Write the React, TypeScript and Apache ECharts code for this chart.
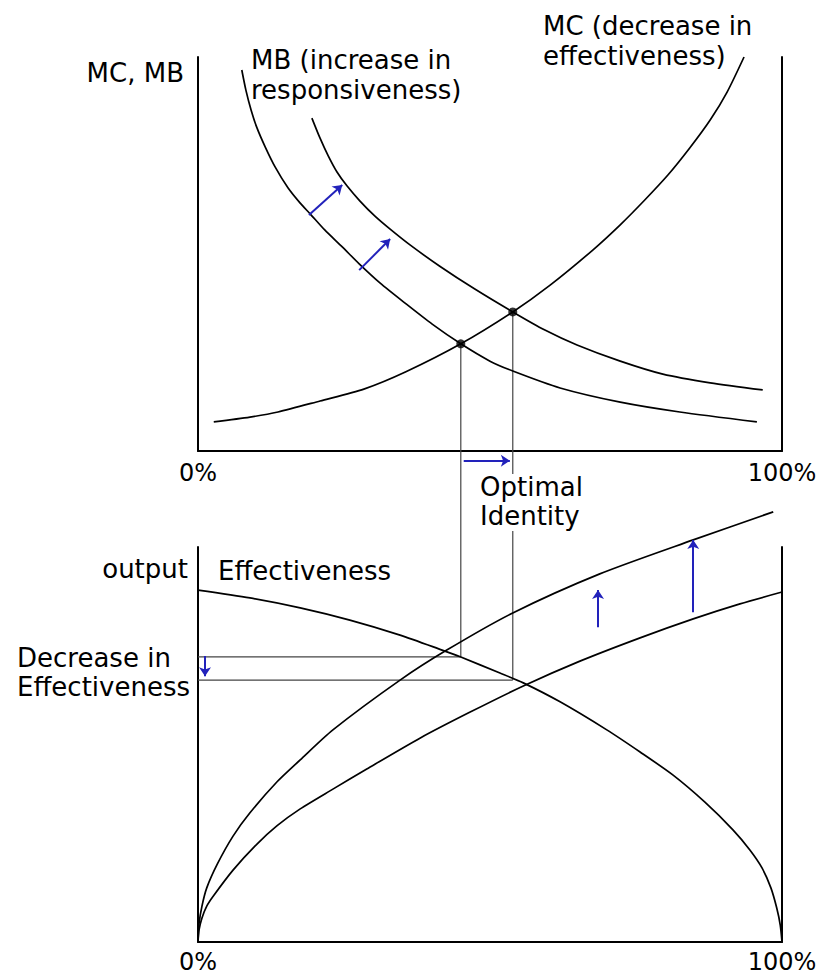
import React, { useEffect, useRef } from "react";
import * as echarts from "echarts";

// ---------- data (x = % of identity, y = value) ----------
const xTickLabels = ["0%", "100%"];

// top panel: marginal benefit (old, lower), marginal benefit (new, higher), marginal cost
const mbOld: [number, number][] = [
  [7.5, 96.7], [8.2, 91.6], [9.1, 86.5], [10.1, 82.0], [11.5, 77.2], [13.2, 72.1],
  [15.4, 66.8], [17.5, 62.9], [19.2, 60.2], [21.7, 56.1], [24.7, 51.8], [27.6, 47.5],
  [31.2, 42.6], [35.4, 37.6], [40.1, 32.2], [45.0, 27.2], [50.0, 22.8], [53.9, 20.3],
  [62.0, 16.0], [72.3, 12.4], [82.5, 9.9], [95.7, 7.4],
];
const mbNew: [number, number][] = [
  [19.5, 84.5], [20.9, 79.4], [22.3, 74.9], [23.8, 70.8], [25.5, 67.3], [27.7, 63.5],
  [30.3, 59.6], [32.9, 56.3], [36.3, 52.3], [41.4, 46.9], [47.4, 41.1], [53.9, 35.3],
  [59.4, 30.7], [64.9, 26.9], [72.3, 22.8], [79.6, 19.5], [87.7, 17.3], [96.7, 15.5],
];
const mc: [number, number][] = [
  [2.7, 7.4], [8.9, 8.6], [13.7, 9.9], [20.9, 12.7], [28.4, 15.7], [35.6, 20.1],
  [45.0, 27.2], [53.9, 35.3], [60.3, 42.1], [67.6, 51.0], [72.3, 57.4], [76.5, 63.7],
  [80.5, 70.1], [84.2, 76.9], [87.7, 84.0], [90.6, 91.1], [93.5, 100.0],
];
const eqX = [45.0, 53.9];
const eqY = [27.2, 35.3];

// bottom panel: effectiveness, responsiveness (old, lower) and (new, higher)
const effectiveness: [number, number][] = [
  [0, 89.1], [8.9, 87.1], [17.5, 84.6], [26.0, 81.5], [34.6, 77.7], [41.8, 73.9],
  [44.9, 72.2], [51.7, 68.1], [55.7, 65.6], [62.0, 60.8], [70.0, 53.7], [75.7, 48.1],
  [81.3, 42.3], [86.8, 35.4], [91.6, 28.4], [94.5, 23.3], [96.6, 18.7], [98.1, 13.7],
  [99.1, 8.6], [99.7, 4.3], [100, 0],
];
const respOld: [number, number][] = [
  [0, 0], [0.17, 3.0], [0.68, 6.1], [1.5, 9.1], [2.6, 11.6], [6.0, 18.2], [10.1, 24.8],
  [13.5, 29.4], [17.5, 33.7], [23.1, 38.7], [28.9, 43.8], [38.0, 51.6], [46.6, 58.2],
  [55.7, 64.8], [65.4, 71.1], [75.7, 77.0], [84.8, 81.8], [92.8, 85.6], [100, 88.6],
];
const respNew: [number, number][] = [
  [0, 0], [0.17, 4.6], [0.68, 9.1], [1.5, 13.7], [3.3, 19.7], [6.0, 26.8], [8.9, 32.7],
  [13.5, 40.5], [17.5, 46.1], [23.1, 53.7], [34.6, 66.3], [42.6, 73.9], [53.9, 83.3],
  [68.8, 93.2], [84.8, 101.8], [98.5, 108.9],
];
const effLevels = [72.2, 66.3];

// shift arrows
const topArrows: [number, number][][] = [
  [[19.0, 59.9], [24.7, 67.5]],
  [[27.6, 45.9], [32.9, 53.8]],
];
const shiftArrow: [number, number][] = [[45.5, -2.5], [53.4, -2.5]];
const bottomArrows: [number, number][][] = [
  [[1.2, 72.4], [1.2, 67.3]],
  [[68.5, 79.7], [68.5, 89.1]],
  [[84.8, 83.5], [84.8, 101.8]],
];

const FONT = '"DejaVu Sans", sans-serif';
const BLUE = "#2222bb";

export default function App() {
  const ref = useRef<HTMLDivElement>(null);

  useEffect(() => {
    if (!ref.current) return;
    const chart = echarts.init(ref.current, null, { renderer: "svg" });

    const xAxis = (gridIndex: number, margin: number) => ({
      type: "value",
      gridIndex,
      min: 0,
      max: 100,
      interval: 100,
      axisLine: { show: true, onZero: false, lineStyle: { color: "#000", width: 2 } },
      axisTick: { show: false },
      splitLine: { show: false },
      axisLabel: {
        show: true,
        margin,
        color: "#000",
        fontSize: 24,
        fontFamily: FONT,
        formatter: (v: number) => (v === 0 ? xTickLabels[0] : xTickLabels[1]),
      },
    });
    const yAxis = (gridIndex: number, position: string) => ({
      type: "value",
      gridIndex,
      position,
      min: 0,
      max: 100,
      axisLine: { show: true, onZero: false, lineStyle: { color: "#000", width: 2 } },
      axisTick: { show: false },
      splitLine: { show: false },
      axisLabel: { show: false },
    });

    const curve = (data: [number, number][], xi: number, yi: number) => ({
      type: "line",
      xAxisIndex: xi,
      yAxisIndex: yi,
      data,
      smooth: 0.25,
      symbol: "none",
      clip: false,
      lineStyle: { color: "#000", width: 1.7 },
      z: 3,
    });
    const arrows = (list: [number, number][][], xi: number, yi: number) => ({
      type: "lines",
      coordinateSystem: "cartesian2d",
      xAxisIndex: xi,
      yAxisIndex: yi,
      clip: false,
      symbol: ["none", "arrow"],
      symbolSize: 9,
      lineStyle: { color: BLUE, width: 2, opacity: 1 },
      data: list.map((c) => ({ coords: c })),
      z: 4,
    });

    const option: any = {
      animation: false,
      backgroundColor: "#fff",
      grid: [
        { left: 198, top: 57, width: 584, height: 394, outerBoundsMode: "none", containLabel: false },
        { left: 198, top: 547, width: 584, height: 395, outerBoundsMode: "none", containLabel: false },
      ],
      xAxis: [xAxis(0, 10), xAxis(1, 8)],
      yAxis: [yAxis(0, "left"), yAxis(0, "right"), yAxis(1, "left"), yAxis(1, "right")],
      series: [
        curve(mbOld, 0, 0),
        curve(mbNew, 0, 0),
        curve(mc, 0, 0),
        {
          type: "scatter",
          xAxisIndex: 0,
          yAxisIndex: 0,
          data: eqX.map((x, i) => [x, eqY[i]]),
          symbolSize: 9,
          itemStyle: { color: "#000" },
          z: 5,
        },
        arrows(topArrows, 0, 0),
        arrows([shiftArrow], 0, 0),
        curve(effectiveness, 1, 2),
        curve(respOld, 1, 2),
        curve(respNew, 1, 2),
        ...effLevels.map((lv, i) => ({
          type: "line",
          xAxisIndex: 1,
          yAxisIndex: 2,
          data: [[0, lv], [eqX[i], lv]],
          symbol: "none",
          lineStyle: { color: "#444", width: 1.2 },
          z: 2,
        })),
        arrows(bottomArrows, 1, 2),
      ],
    };
    chart.setOption(option);

    const lines: any[] = eqX.map((x, i) => {
      const p1 = chart.convertToPixel({ xAxisIndex: 0, yAxisIndex: 0 } as any, [x, eqY[i]]) as number[];
      const p2 = chart.convertToPixel({ xAxisIndex: 1, yAxisIndex: 2 } as any, [x, effLevels[i]]) as number[];
      return {
        type: "line",
        shape: { x1: p1[0], y1: p1[1], x2: p2[0], y2: p2[1] },
        style: { stroke: "#444", lineWidth: 1.2 },
        z: 1,
      };
    });

    const txt = (text: string, x: number, y: number, align = "left", size = 26) => ({
      type: "text",
      z: 10,
      style: {
        text,
        x,
        y,
        fill: "#000",
        font: `${size}px ${FONT}`,
        textAlign: align,
        textVerticalAlign: "middle",
      },
    });

    chart.setOption({
      graphic: [
        ...lines,
        txt("MC, MB", 184, 73, "right"),
        txt("MB (increase in", 251, 60),
        txt("responsiveness)", 251, 90),
        txt("MC (decrease in", 543, 26),
        txt("effectiveness)", 543, 56),
        {
          type: "rect",
          z: 9,
          shape: { x: 477, y: 474, width: 116, height: 57 },
          style: { fill: "#fff" },
        },
        txt("Optimal", 480, 487),
        txt("Identity", 480, 516),
        txt("output", 188, 569, "right"),
        txt("Effectiveness", 218, 571),
        txt("Decrease in", 17, 658),
        txt("Effectiveness", 17, 687),
      ],
    });

    return () => chart.dispose();
  }, []);

  return (
    <div
      ref={ref}
      style={{ position: "fixed", left: 0, top: 0, width: 817, height: 980, background: "#fff" }}
    />
  );
}
